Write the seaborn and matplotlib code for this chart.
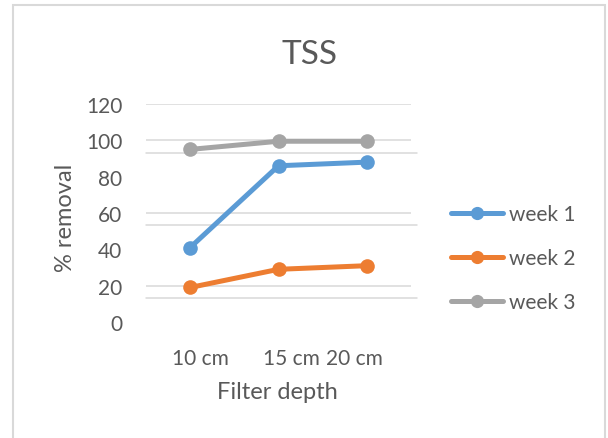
import matplotlib
matplotlib.use("Agg")
import matplotlib.pyplot as plt
import matplotlib.transforms as mtransforms
from matplotlib.patches import Rectangle
import pandas as pd
import seaborn as sns

# Data
depths = ["10 cm", "15 cm", "20 cm"]
week1 = [41, 86, 88]
week2 = [19, 29, 31]
week3 = [95, 99.5, 99.5]
series_names = ["week 1", "week 2", "week 3"]
y_ticks = [0, 20, 40, 60, 80, 100, 120]

colors = ["#5B9BD5", "#ED7D31", "#A5A5A5"]
text_color = "#595959"
grid_color = "#D9D9D9"

sns.set_theme(style="white")
plt.rcParams["font.family"] = ["Lato", "DejaVu Sans"]

rows = []
for name, vals in zip(series_names, [week1, week2, week3]):
    for d, v in zip(depths, vals):
        rows.append({"depth": d, "removal": v, "series": name})
df = pd.DataFrame(rows)

fig = plt.figure(figsize=(6.08, 4.39), dpi=100)
fig.patch.set_facecolor("white")

# chart frame
fig.add_artist(Rectangle((13 / 608, -0.05), (605 - 13) / 608, 1.05 - 6 / 439,
                         transform=fig.transFigure, fill=False,
                         edgecolor=grid_color, linewidth=1.5))

ax = fig.add_axes([146 / 608, 116 / 439, 265 / 608, 218 / 439])

# horizontal gridlines
for y in [20, 60, 100, 120]:
    ax.axhline(y, xmin=0, xmax=1, color=grid_color, lw=1.1, zorder=0)
for y in [13.3, 53.3, 93.3]:
    ax.axhline(y, xmin=0, xmax=1.023, color=grid_color, lw=1.1, zorder=0,
               clip_on=False)

sns.lineplot(data=df, x="depth", y="removal", hue="series",
             palette=colors, marker="o", markersize=10.5, linewidth=3.6,
             markeredgewidth=0, ax=ax, legend=False, sort=False)

ax.set_xlim(-0.5, 2.5)
ax.set_ylim(0, 120)
ax.set_yticks(y_ticks)
ax.set_yticklabels([str(t) for t in y_ticks])
ax.set_xticks(range(len(depths)))
ax.set_xticklabels(depths)
for s in ax.spines.values():
    s.set_visible(False)
ax.tick_params(axis="both", length=0, labelsize=15, colors=text_color)
ax.tick_params(axis="y", pad=17)
ax.tick_params(axis="x", pad=19)

shifts = [10, 13, -12]
for lab, dx in zip(ax.get_xticklabels(), shifts):
    lab.set_transform(lab.get_transform() +
                      mtransforms.ScaledTranslation(dx / 100, 0, fig.dpi_scale_trans))

ax.set_xlabel("Filter depth", fontsize=17, color=text_color, va="center")
ax.set_ylabel("% removal", fontsize=17, color=text_color, va="center")
ax.xaxis.set_label_coords((277 - 146) / 265, -(393 - 323) / 218)
ax.yaxis.set_label_coords(-(146 - 65) / 265, (323 - 218) / 218)

fig.text(309 / 608, 1 - 55 / 439, "TSS", ha="center", va="center",
         fontsize=24, color=text_color)

handles = [plt.Line2D([], [], color=c, lw=3.6, marker="o", markersize=9.5,
                      markeredgewidth=0) for c in colors]
leg = fig.legend(handles, series_names, loc="center left",
                 bbox_to_anchor=(451 / 608, 1 - 259 / 439), frameon=False,
                 fontsize=15, handlelength=2.5, handletextpad=0.3,
                 labelspacing=1.15, borderaxespad=0, borderpad=0)
for t in leg.get_texts():
    t.set_color(text_color)

fig.savefig("out.png", dpi=100, facecolor="white")
